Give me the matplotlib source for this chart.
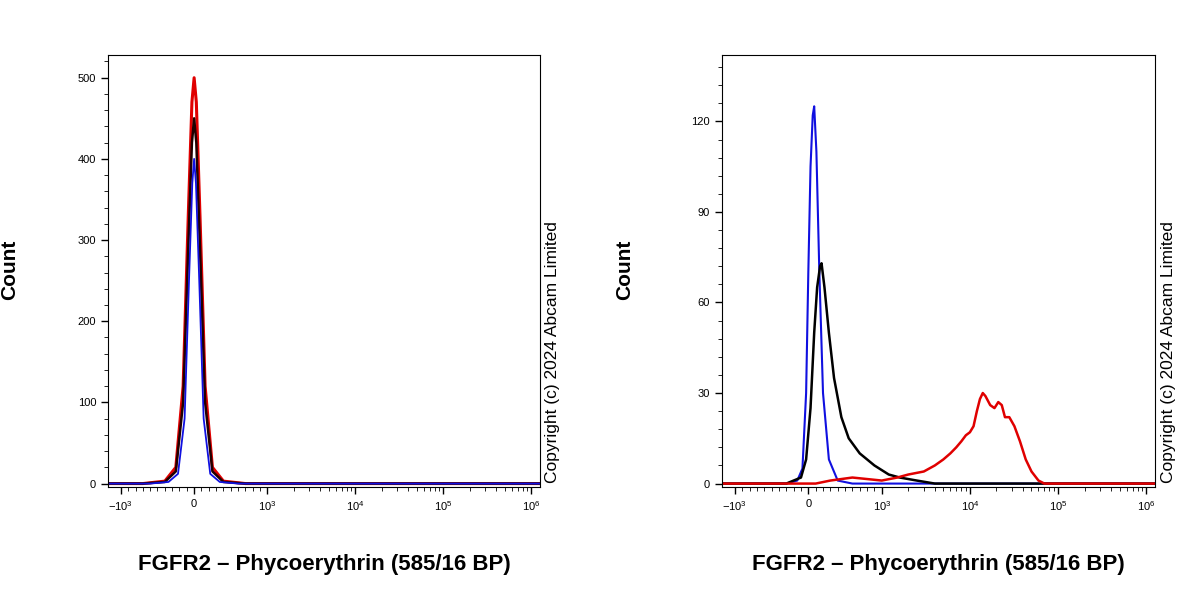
import matplotlib
matplotlib.use("Agg")
import matplotlib.pyplot as plt
import numpy as np
from matplotlib.ticker import FixedLocator, MultipleLocator

plt.rcParams['font.family'] = 'Liberation Sans'
plt.rcParams['mathtext.fontset'] = 'custom'
plt.rcParams['mathtext.rm'] = 'Liberation Sans'

# Left panel data
L_red_x = [-1400,-700,-400,-250,-150,-80,-30,0,30,80,150,250,400,700,1.26e6]
L_red_y = [0,0,3,20,120,330,470,500,470,330,120,20,3,0,0]
L_blk_x = [-1400,-700,-400,-250,-150,-80,-30,0,30,80,150,250,400,700,1.26e6]
L_blk_y = [0,0,2,15,100,290,420,450,420,290,100,15,2,0,0]
L_blu_x = [-1400,-600,-350,-220,-130,-70,-25,0,25,70,130,220,350,600,1.26e6]
L_blu_y = [0,0,2,12,80,250,370,400,370,250,80,12,2,0,0]

# Right panel data
R_blu_x = [-1400,-300,-150,-80,-30,0,30,60,80,110,150,200,280,400,600,1.26e6]
R_blu_y = [0,0,1,5,30,70,105,122,125,110,70,30,8,1,0,0]
R_blk_x = [-1400,-300,-100,-30,30,80,120,160,180,220,280,350,450,550,700,900,1200,1600,2500,4000,1.26e6]
R_blk_y = [0,0,2,8,25,50,65,72,73,65,50,35,22,15,10,6,3,2,1,0,0]
R_red_x = [-1400,100,300,600,1000,1500,2000,3000,4000,5000,6000,7000,8000,9000,10000,11000,12000,13000,14000,15000,17000,19000,21000,23000,25000,28000,32000,37000,43000,50000,60000,70000,1.26e6]
R_red_y = [0,0,1,2,1,2,3,4,6,8,10,12,14,16,17,19,24,28,30,29,26,25,27,26,22,22,19,14,8,4,1,0,0]

xticks = [-1000,0,1000,10000,100000,1000000]
xticklabels = [r"$-10^3$","0",r"$10^3$",r"$10^4$",r"$10^5$",r"$10^6$"]
L_yticks = [0,100,200,300,400,500]
R_yticks = [0,30,60,90,120]

fig = plt.figure(figsize=(12,6), dpi=100)
W, H = 1200, 600
def mkax(x0, x1):
    return fig.add_axes([x0/W, 1-487/H, (x1-x0)/W, (487-55)/H])

minor = sorted(set([-s*10**k for k in (2,3) for s in range(2,10)] +
                   [s*10**k for k in range(2,6) for s in range(2,10)] +
                   [-100,100]))
panels = [
    (mkax(108,540), [(L_red_x,L_red_y,'#e00000',2.2),(L_blk_x,L_blk_y,'#200000',1.8),(L_blu_x,L_blu_y,'#1010e0',1.3)], L_yticks, 528, 20, 553, 10),
    (mkax(722,1155), [(R_blu_x,R_blu_y,'#1010e0',1.5),(R_blk_x,R_blk_y,'black',1.8),(R_red_x,R_red_y,'#e00000',1.8)], R_yticks, 142, 6, 1168, 625),
]
for ax, curves, yt, ytop, ymin_step, cx, lx in panels:
    ax.set_xscale('symlog', linthresh=1000, linscale=0.75)
    for x, y, c, lw in curves:
        ax.plot(x, y, color=c, lw=lw)
    ax.set_xlim(-1400, 1.26e6)
    ax.set_ylim(-ytop*0.008, ytop)
    ax.set_xticks(xticks)
    ax.set_xticklabels(xticklabels, fontsize=8)
    ax.xaxis.set_minor_locator(FixedLocator(minor))
    ax.set_yticks(yt)
    ax.yaxis.set_minor_locator(MultipleLocator(ymin_step))
    ax.tick_params(labelsize=8, direction='out', length=5, width=1)
    ax.tick_params(which='minor', length=3)
    ax.set_xlabel("FGFR2 – Phycoerythrin (585/16 BP)", fontsize=16, fontweight='bold', labelpad=30)
    fig.text(lx/W, 1-270/H, "Count", rotation=90, fontsize=15, fontweight='bold', ha='center', va='center')
    fig.text(cx/W, 1-352/H, "Copyright (c) 2024 Abcam Limited", rotation=90, fontsize=12.5, ha='center', va='center')

fig.savefig("out.png", dpi=100)
